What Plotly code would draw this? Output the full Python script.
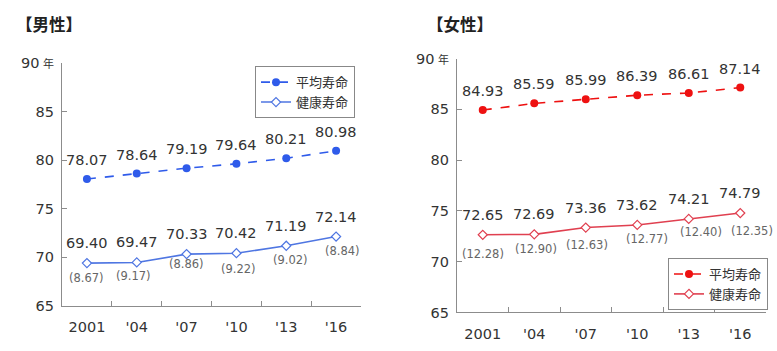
import plotly.graph_objects as go

years = ["2001", "'04", "'07", "'10", "'13", "'16"]
male_avg = [78.07, 78.64, 79.19, 79.64, 80.21, 80.98]
male_healthy = [69.40, 69.47, 70.33, 70.42, 71.19, 72.14]
male_gap = ["(8.67)", "(9.17)", "(8.86)", "(9.22)", "(9.02)", "(8.84)"]
female_avg = [84.93, 85.59, 85.99, 86.39, 86.61, 87.14]
female_healthy = [72.65, 72.69, 73.36, 73.62, 74.21, 74.79]
female_gap = ["(12.28)", "(12.90)", "(12.63)", "(12.77)", "(12.40)", "(12.35)"]
y_ticks = [65, 70, 75, 80, 85, 90]
y_ticktext = ["65", "70", "75", "80", "85", "90<span style='font-size:11px'> 年</span>"]

# label offsets (pixels) for the gap annotations - style only
male_gap_dx = [0, -3, 0, 2, 4, 6]
male_gap_dy = [-15, -14, -10, -16, -14, -14]
female_gap_dx = [0, 2, 1, 10, 12, 12]
female_gap_dy = [-19, -15, -17, -14, -13, -18]

FONT = "DejaVu Sans, Noto Sans CJK JP, sans-serif"
BLUE = "#2F5BEA"
BLUE2 = "#4F76E2"
RED = "#EE1111"
RED2 = "#E04050"
TXT = "#333333"
GRAY = "#666666"
AX = "#8c8c8c"

fig = go.Figure()

fig.add_trace(go.Scatter(x=years, y=male_avg, name="平均寿命", mode="lines+markers",
                         line=dict(color=BLUE, width=1.6, dash="dash"),
                         marker=dict(symbol="circle", size=8, color=BLUE),
                         xaxis="x", yaxis="y", legend="legend"))
fig.add_trace(go.Scatter(x=years, y=male_healthy, name="健康寿命", mode="lines+markers",
                         line=dict(color=BLUE2, width=1.6),
                         marker=dict(symbol="diamond", size=7, color="white",
                                     line=dict(color=BLUE2, width=1.2)),
                         xaxis="x", yaxis="y", legend="legend"))
fig.add_trace(go.Scatter(x=years, y=female_avg, name="平均寿命", mode="lines+markers",
                         line=dict(color=RED, width=1.6, dash="dash"),
                         marker=dict(symbol="circle", size=8, color=RED),
                         xaxis="x2", yaxis="y2", legend="legend2"))
fig.add_trace(go.Scatter(x=years, y=female_healthy, name="健康寿命", mode="lines+markers",
                         line=dict(color=RED2, width=1.6),
                         marker=dict(symbol="diamond", size=7, color="white",
                                     line=dict(color=RED2, width=1.2)),
                         xaxis="x2", yaxis="y2", legend="legend2"))

ann = []
def add_labels(xr, yr, vals, dy=19):
    for i, v in enumerate(vals):
        ann.append(dict(x=i, y=v, xref=xr, yref=yr, text=f"{v:.2f}",
                        showarrow=False, yshift=dy,
                        font=dict(size=14.5, color=TXT, family=FONT)))

def add_gaps(xr, yr, vals, gaps, dxs, dys):
    for i, v in enumerate(vals):
        ann.append(dict(x=i, y=v, xref=xr, yref=yr, text=gaps[i],
                        showarrow=False, yshift=dys[i], xshift=dxs[i],
                        font=dict(size=11.5, color=GRAY, family=FONT)))

add_labels("x", "y", male_avg, 19)
add_labels("x", "y", male_healthy, 20)
add_gaps("x", "y", male_healthy, male_gap, male_gap_dx, male_gap_dy)
add_labels("x2", "y2", female_avg, 19)
add_labels("x2", "y2", female_healthy, 20)
add_gaps("x2", "y2", female_healthy, female_gap, female_gap_dx, female_gap_dy)

ann.append(dict(x=14 / 777, y=1 - 18 / 351, xref="paper", yref="paper", text="<b>【男性】</b>",
                showarrow=False, xanchor="left", yanchor="middle",
                font=dict(size=16.5, color="#222", family=FONT)))
ann.append(dict(x=425 / 777, y=1 - 18 / 351, xref="paper", yref="paper", text="<b>【女性】</b>",
                showarrow=False, xanchor="left", yanchor="middle",
                font=dict(size=16.5, color="#222", family=FONT)))

xax = dict(type="category", range=[-0.5, 5.5], showline=True, linecolor=AX, linewidth=1.3,
           ticks="inside", tickson="boundaries", ticklen=5, tickcolor=AX, showgrid=False,
           tickfont=dict(size=14.5, color=TXT, family=FONT), zeroline=False,
           ticklabelstandoff=8)
yax = dict(range=[65, 90], tickvals=y_ticks, ticktext=y_ticktext, showline=True, linecolor=AX,
           linewidth=1.3, ticks="inside", ticklen=5, tickcolor=AX, showgrid=False, zeroline=False,
           tickfont=dict(size=14.5, color=TXT, family=FONT), ticklabelstandoff=4)

fig.update_layout(
    width=777, height=351, margin=dict(l=0, r=0, t=0, b=0),
    paper_bgcolor="white", plot_bgcolor="white",
    font=dict(family=FONT),
    xaxis=dict(xax, domain=[62 / 777, 361 / 777], anchor="y"),
    yaxis=dict(yax, domain=[(351 - 312) / 351, (351 - 58) / 351], anchor="x"),
    xaxis2=dict(xax, domain=[457 / 777, 766 / 777], anchor="y2"),
    yaxis2=dict(yax, domain=[(351 - 319) / 351, (351 - 53) / 351], anchor="x2"),
    legend=dict(x=255 / 777, y=1 - 61 / 351, xanchor="left", yanchor="top",
                bordercolor="#888", borderwidth=1, bgcolor="white",
                font=dict(size=13, color=TXT, family=FONT), itemwidth=30, tracegroupgap=0),
    legend2=dict(x=668 / 777, y=1 - 262 / 351, xanchor="left", yanchor="top",
                 bordercolor="#888", borderwidth=1, bgcolor="white",
                 font=dict(size=13, color=TXT, family=FONT), itemwidth=30, tracegroupgap=0),
    annotations=ann,
    showlegend=True,
)

fig.write_html("out.html")
